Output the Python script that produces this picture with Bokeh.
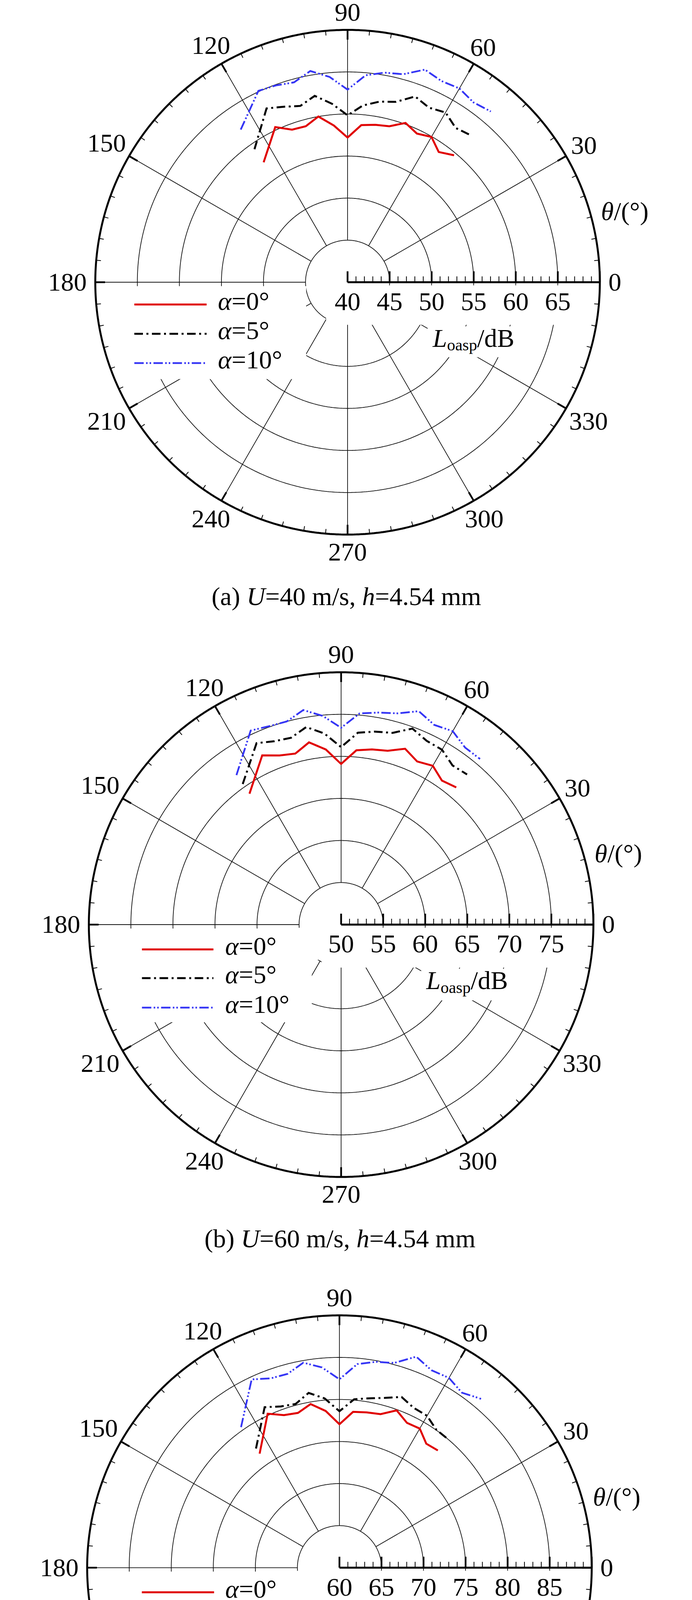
import numpy as np
from bokeh.plotting import figure
from bokeh.layouts import column
from bokeh.models import Range1d
from bokeh.core.properties import value
from bokeh.embed import file_html
from bokeh.resources import INLINE

# ---------------- data ----------------
theta_deg = [125, 115, 110, 105, 100, 95, 90, 85, 80, 75, 70, 65, 60, 55, 50]

u40_alpha0 = [57.4, 60.35, 59.3, 59.2, 60.0, 58.7, 57.2, 58.75, 59.0, 59.2, 60.15, 59.5, 59.95, 58.9, 59.7]
u40_alpha5 = [59.3, 62.8, 62.2, 61.7, 62.5, 61.3, 59.85, 61.1, 61.8, 62.2, 63.5, 62.9, 63.3, 62.4, 62.8]
u40_alpha10 = [62.15, 65.1, 64.9, 64.6, 65.5, 64.5, 62.9, 64.7, 65.3, 65.6, 66.9, 66.4, 66.6, 66.1, 66.5]

u60_alpha0 = [69.0, 72.2, 71.4, 71.05, 72.0, 70.9, 69.1, 70.8, 71.15, 71.4, 72.25, 71.4, 71.8, 70.9, 71.3]
u60_alpha5 = [70.4, 73.8, 73.2, 73.0, 73.85, 72.8, 71.1, 72.9, 73.3, 73.6, 74.8, 74.1, 74.0, 73.1, 73.3]
u60_alpha10 = [71.7, 75.45, 75.1, 75.0, 75.9, 74.9, 73.4, 75.2, 75.6, 76.0, 77.0, 76.2, 76.55, 75.7, 75.7]

u80_alpha0 = [76.55, 80.2, 79.3, 79.05, 79.75, 78.7, 77.05, 78.6, 78.75, 78.9, 79.9, 79.0, 79.1, 78.0, 78.2]
u80_alpha5 = [77.3, 81.05, 80.4, 80.15, 81.1, 80.2, 78.6, 80.1, 80.45, 80.9, 81.6, 80.95, 80.85, 80.05, 80.0]
u80_alpha10 = [80.4, 84.7, 83.95, 83.85, 84.75, 83.9, 82.4, 84.3, 84.85, 85.2, 86.7, 85.9, 86.05, 85.4, 86.2]

alpha_labels = ["0", "5", "10"]
radial_ticks_u40 = [40, 45, 50, 55, 60, 65]
radial_ticks_u60 = [50, 55, 60, 65, 70, 75]
radial_ticks_u80 = [60, 65, 70, 75, 80, 85]
radial_span_db = 30
angle_ticks = [0, 30, 60, 90, 120, 150, 180, 210, 240, 270, 300, 330]
panel_tags = ["(a)", "(b)", "(c)"]
speeds = ["40", "60", "80"]
h_value = "4.54"

# ---------------- layout / style ----------------
FONT = "Liberation Serif"
PAGE_W, PAGE_H = 1772, 4867
M = 8
W = PAGE_W - 2 * M
SLICE_H = (PAGE_H - 2 * M) // 3          # 1617 px per figure
R_OUT = 646.0
K = R_OUT / radial_span_db
FS = 66
MID = 0.3375                              # em-box middle above the baseline
COLORS = ["#e00000", "#000000", "#3535f5"]
DASHES = ["solid", "22 9 5 9", "24 6 4 5 4 6"]
WIDTHS = [5, 5, 4.5]
GRID_C = "#111111"

panels = [
    dict(cx=897.5, cy=730.0, ticks=radial_ticks_u40,
         series=[u40_alpha0, u40_alpha5, u40_alpha10],
         leg_line=(-546, -361), leg_text=-332, rows=(57, 132, 207),
         masks=[(-592, -106, 10, 248), (-55, 575, 8, 109), (205, 430, 113, 192)]),
    dict(cx=881.0, cy=2374.5, ticks=radial_ticks_u60,
         series=[u60_alpha0, u60_alpha5, u60_alpha10],
         leg_line=(-510, -327), leg_text=-297, rows=(63.5, 137, 212.5),
         masks=[(-592, -75, 10, 250), (-110, 590, 8, 90), (-50, 590, 8, 110), (205, 430, 113, 194)]),
    dict(cx=876.7, cy=4020.8, ticks=radial_ticks_u80,
         series=[u80_alpha0, u80_alpha5, u80_alpha10],
         leg_line=(-506, -321), leg_text=-292.5, rows=(63, 136.4, 209.8),
         masks=[(-592, -75, 10, 250), (-110, 590, 8, 90), (-50, 590, 8, 110), (205, 430, 113, 194)]),
]

REG = {' ': 250, '(': 333, ')': 333, 'a': 444, 'b': 500, 'c': 444, '=': 564, '.': 250,
       ',': 250, '/': 278, 'm': 778, 's': 389, 'd': 500, 'B': 667, '°': 400, 'o': 500, 'p': 500}
ITA = {'U': 722, 'h': 500, 'L': 556, 'θ': 500, 'α': 530}


def tw(s, italic, size):
    tab = ITA if italic else REG
    return sum(tab.get(c, 500) for c in s) / 1000.0 * size


def pol(cx, cy, r, th):
    t = np.radians(th)
    return cx + r * np.cos(t), (PAGE_H - cy) + r * np.sin(t)


circ = np.linspace(0, 360, 721)
figs = []

for pi, P in enumerate(panels):
    top_y = M + pi * SLICE_H
    bot_y = top_y + SLICE_H
    p = figure(width=W, height=SLICE_H, x_range=Range1d(M, M + W),
               y_range=Range1d(PAGE_H - bot_y, PAGE_H - top_y),
               output_backend="svg", toolbar_location=None, min_border=0,
               x_axis_type=None, y_axis_type=None, outline_line_color=None,
               background_fill_color="white", border_fill_color="white")
    p.grid.visible = False
    texts = []

    def add_text(x, base_orig, s, size=FS, style="normal", align="left"):
        # base_orig: baseline position (page pixels, downwards); drawn with a middle anchor
        texts.append((x, PAGE_H - (base_orig - MID * size), s, size, style, align))

    def add_runs(x0, base_orig, parts, center=False):
        total = sum(tw(s, it, sz) for s, it, sz, dy in parts)
        x = x0 - total / 2.0 if center else x0
        for s, it, sz, dy in parts:
            add_text(x, base_orig + dy, s, sz, "italic" if it else "normal", "left")
            x += tw(s, it, sz)

    cx, cy = P["cx"], P["cy"]
    rmin = P["ticks"][0]
    # grid circles and spokes
    xs, ys = [], []
    for db in range(5, radial_span_db, 5):
        x, y = pol(cx, cy, db * K, circ)
        xs.append(list(x)); ys.append(list(y))
    for th in angle_ticks:
        if th == 0:
            continue
        x, y = pol(cx, cy, np.array([5 * K, R_OUT]), th)
        xs.append(list(x)); ys.append(list(y))
    p.multi_line(xs, ys, line_color=GRID_C, line_width=1.8)

    # white masks behind legend / labels
    for (x0, x1, y0, y1) in P["masks"]:
        p.quad(left=cx + x0, right=cx + x1, top=PAGE_H - (cy + y0), bottom=PAGE_H - (cy + y1),
               fill_color="white", line_color=None)

    # outer ring and its ticks
    x, y = pol(cx, cy, R_OUT, circ)
    p.line(x, y, line_color="black", line_width=5)
    mxs, mys, nxs, nys = [], [], [], []
    for th in range(0, 360, 5):
        if th % 30 == 0:
            x, y = pol(cx, cy, np.array([R_OUT - 25, R_OUT]), th)
            mxs.append(list(x)); mys.append(list(y))
        else:
            x, y = pol(cx, cy, np.array([R_OUT - 12, R_OUT]), th)
            nxs.append(list(x)); nys.append(list(y))
    p.multi_line(mxs, mys, line_color="black", line_width=4.5)
    p.multi_line(nxs, nys, line_color="black", line_width=2)

    # radial axis along 0 deg
    ybase = PAGE_H - cy
    p.line([cx, cx + R_OUT], [ybase, ybase], line_color="black", line_width=5)
    axs, ays, ixs, iys = [], [], [], []
    for d in range(0, radial_span_db + 1):
        xx = cx + d * K
        if d % 5 == 0:
            axs.append([xx, xx]); ays.append([ybase, ybase + 28])
        else:
            ixs.append([xx, xx]); iys.append([ybase, ybase + 15])
    p.multi_line(axs, ays, line_color="black", line_width=4.5)
    p.multi_line(ixs, iys, line_color="black", line_width=2)

    # data series
    for si, vals in enumerate(P["series"]):
        r = (np.array(vals) - rmin) * K
        x, y = pol(cx, cy, r, np.array(theta_deg))
        p.line(x, y, line_color=COLORS[si], line_width=WIDTHS[si],
               line_dash=DASHES[si], line_join="miter")

    # legend
    for si in range(3):
        ly = cy + P["rows"][si]
        p.line([cx + P["leg_line"][0], cx + P["leg_line"][1]], [PAGE_H - ly, PAGE_H - ly],
               line_color=COLORS[si], line_width=WIDTHS[si], line_dash=DASHES[si])
        add_runs(cx + P["leg_text"], ly + 13,
                 [("α", True, FS, 0), ("=" + alpha_labels[si] + "°", False, FS, 0)])

    # radial tick labels
    for v in P["ticks"]:
        add_text(cx + (v - rmin) * K, cy + 72, str(v), align="center")

    # angle labels
    for th in angle_ticks:
        s = str(th)
        w = tw(s, False, FS)
        t = np.radians(th)
        off = R_OUT + 22 + np.hypot(w / 2 * np.cos(t), 23 * np.sin(t))
        lx = cx + off * np.cos(t)
        ly = cy - off * np.sin(t)
        add_text(lx, ly + 22, s, align="center")

    # axis titles
    add_runs(cx + 649, cy - 160, [("θ", True, FS, 0), ("/(°)", False, FS, 0)])
    add_runs(cx + 218, cy + 165, [("L", True, FS, 0), ("oasp", False, 42, 10), ("/dB", False, FS, 0)])

    # caption
    add_runs(cx - 3, cy + 826,
             [(panel_tags[pi] + " ", False, FS, 0), ("U", True, FS, 0),
              ("=" + speeds[pi] + " m/s, ", False, FS, 0), ("h", True, FS, 0),
              ("=" + h_value + " mm", False, FS, 0)], center=True)

    groups = {}
    for x, y, s, size, style, align in texts:
        groups.setdefault((size, style, align), []).append((x, y, s))
    for (size, style, align), items in groups.items():
        p.text(x=[i[0] for i in items], y=[i[1] for i in items], text=[i[2] for i in items],
               text_font=value(FONT), text_font_size=f"{size}px", text_font_style=style,
               text_align=align, text_baseline="middle", text_color="black")
    figs.append(p)

layout = column(*figs, spacing=0)
open("out.html", "w").write(file_html(layout, INLINE))
